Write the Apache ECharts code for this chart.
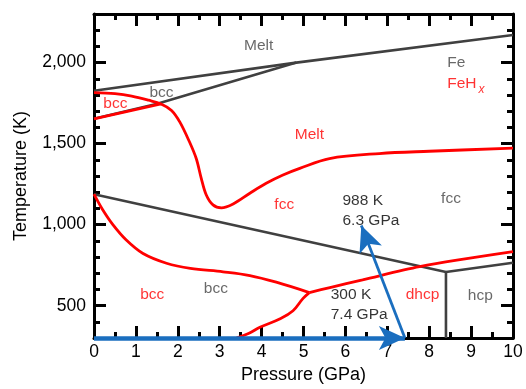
<!DOCTYPE html>
<html><head><meta charset="utf-8">
<script src="https://cdn.jsdelivr.net/npm/echarts@6/dist/echarts.min.js"></script>
<style>html,body{margin:0;padding:0;background:#fff}#c{width:526px;height:389px}</style>
</head><body><div id="c"></div>
<script>
// ---- tick labels ----
const xTickValues = [0,1,2,3,4,5,6,7,8,9,10];
const yTickValues = [500,1000,1500,2000];

// ---- Fe phase boundaries (gray) [pressure GPa, temperature K] ----
const feMelt      = [[0,1826],[4.83,2000],[10,2170]];
const feBccFcc    = [[0,1653],[1.49,1745],[4.83,2000]];
const feBccFccLow = [[0,1188],[8.4,708]];
const feFccHcp    = [[8.4,708],[10,765]];
const feBccHcp    = [[8.4,708],[8.4,300]];

// ---- FeHx phase boundaries (red) ----
const fehMelt = [[0,1815],[0.5,1808],[0.9,1793],[1.3,1768],[1.6,1745],[1.85,1705],[2.05,1633],[2.28,1510],[2.44,1408],[2.56,1286],[2.68,1183],[2.84,1122],[3.04,1104],[3.32,1128],[3.72,1194],[4.11,1255],[4.51,1306],[4.91,1347],[5.62,1408],[6.81,1439],[8.0,1453],[10,1472]];
const fehBccFcc = [[0,1653],[1.6,1745]];
const fehBccFccLow = [[0,1188],[0.2,1095],[0.45,1000],[0.77,905],[1.17,822],[1.73,762],[2.3,730],[3.08,709],[3.72,686],[4.35,645],[5.14,581]];
const fehBccDhcp = [[3.4,300],[3.7,330],[3.96,367],[4.43,418],[4.75,469],[4.99,545],[5.14,581]];
const fehDhcpFcc = [[5.14,581],[5.63,612],[6.41,659],[7.77,741],[10,833]];

// ---- heating path (blue) ----
const pathStart = [0,300];
const pathMid   = [7.42,300];
const pathEnd   = [6.38,995];

// ---- annotations ----
const annoText  = ['Melt','bcc','bcc','Fe','FeHx','Melt','fcc','988 K\n6.3 GPa','fcc','bcc','bcc','300 K\n7.4 GPa','dhcp','hcp'];
const annoP     = [3.93,1.61,0.51,8.43,8.43,5.14,4.54,5.93,8.52,1.39,2.91,5.65,7.84,9.22];
const annoT     = [2103,1812,1747,1997,1869,1556,1124,1085,1163,566,603,508,566,563];
const annoGroup = ['fe','fe','feh','fe','feh','feh','feh','note','fe','feh','fe','note','feh','fe'];
const annoAlign = ['center','center','center','left','left','center','center','left','center','center','center','left','center','center'];

const GRAY = '#404040', RED = '#ff0000', BLUE = '#1a6ebf';
const FONT = '"Liberation Sans", Arial, Helvetica, sans-serif';
const groupColor = {fe:'#444444', feh:RED, note:'#000000'};

function lineSeries(data, color, width, smooth) {
  return {type:'line', data:data, showSymbol:false, symbol:'none', smooth:smooth||false,
    lineStyle:{color:color, width:width}, silent:true, z:3, clip:true};
}

const labelData = annoText.map((t,i) => {
  const isFeH = t === 'FeHx';
  return {
    value:[annoP[i], annoT[i]],
    label:{
      show:true, position:'inside', align:annoAlign[i], verticalAlign:'middle',
      color:groupColor[annoGroup[i]], fontSize:15.5, fontFamily:FONT, lineHeight:20,
      formatter: isFeH ? '{a|FeH}{b|x}' : t,
      rich: isFeH ? {
        a:{color:RED, fontSize:15.5, fontFamily:FONT},
        b:{color:RED, fontSize:12, fontStyle:'italic', fontFamily:FONT, padding:[11,0,0,2]}
      } : undefined
    }
  };
});

const axisLineStyle = {show:true, onZero:false, lineStyle:{color:'#000', width:3}};
const majorTick = {show:true, inside:true, length:12, lineStyle:{color:'#000', width:3}};
const minorTickY = {show:true, inside:true, length:6, lineStyle:{color:'#000', width:3}};

const option = {
  animation:false,
  grid:{left:94, right:13, top:14, bottom:48, containLabel:false},
  xAxis:[
    {type:'value', position:'bottom', min:0, max:10, interval:1,
     axisLine:axisLineStyle, axisTick:majorTick,
     minorTick:{show:true, splitNumber:2, length:6, lineStyle:{color:'#000', width:3}},
     splitLine:{show:false}, minorSplitLine:{show:false},
     axisLabel:{show:true, color:'#000', fontSize:17.5, fontFamily:FONT, margin:5,
       formatter:v => xTickValues.includes(v) ? String(v) : ''},
     name:'Pressure (GPa)', nameLocation:'middle', nameGap:26,
     nameTextStyle:{color:'#000', fontSize:18, fontFamily:FONT}},
    {type:'value', position:'top', min:0, max:10, interval:1,
     axisLine:axisLineStyle, axisTick:majorTick,
     minorTick:{show:true, splitNumber:2, length:6, lineStyle:{color:'#000', width:3}},
     splitLine:{show:false}, axisLabel:{show:false}}
  ],
  yAxis:[
    {type:'value', position:'left', min:300, max:2300, minInterval:500, maxInterval:500,
     axisLine:axisLineStyle, axisTick:majorTick, splitLine:{show:false},
     axisLabel:{show:true, color:'#000', fontSize:17.5, fontFamily:FONT, margin:8,
       showMinLabel:false, showMaxLabel:false,
       formatter:v => yTickValues.includes(v) ? v.toLocaleString('en-US') : ''},
     name:'Temperature (K)', nameLocation:'middle', nameGap:64,
     nameTextStyle:{color:'#000', fontSize:18, fontFamily:FONT}},
    {type:'value', position:'left', min:300, max:2300, interval:100,
     axisLine:{show:false, onZero:false}, axisTick:minorTickY, splitLine:{show:false}, axisLabel:{show:false}},
    {type:'value', position:'right', min:300, max:2300, minInterval:500, maxInterval:500,
     axisLine:axisLineStyle, axisTick:majorTick, splitLine:{show:false}, axisLabel:{show:false}},
    {type:'value', position:'right', min:300, max:2300, interval:100,
     axisLine:{show:false, onZero:false}, axisTick:minorTickY, splitLine:{show:false}, axisLabel:{show:false}}
  ],
  series:[
    lineSeries(feMelt, GRAY, 2.6),
    lineSeries(feBccFcc, GRAY, 2.6),
    lineSeries(feBccFccLow, GRAY, 2.6),
    lineSeries(feFccHcp, GRAY, 2.6),
    lineSeries(feBccHcp, GRAY, 2.6),
    lineSeries(fehMelt, RED, 2.8, 0.35),
    lineSeries(fehBccFcc, RED, 2.8),
    lineSeries(fehBccFccLow, RED, 2.8, 0.35),
    lineSeries(fehBccDhcp, RED, 2.8, 0.4),
    lineSeries(fehDhcpFcc, RED, 2.8, 0.3),
    {type:'line', data:[], silent:true, z:5,
     markLine:{silent:true, animation:false, symbol:['none','arrow'], symbolSize:[18,26],
       label:{show:false}, emphasis:{disabled:true},
       data:[
         [{coord:pathStart, lineStyle:{color:BLUE, width:4.5, type:'solid'}}, {coord:pathMid}],
         [{coord:pathMid, lineStyle:{color:BLUE, width:2.8, type:'solid'}}, {coord:pathEnd}]
       ],
       itemStyle:{color:BLUE}, lineStyle:{color:BLUE, type:'solid'}}},
    {type:'scatter', data:labelData, symbolSize:0, silent:true, z:6}
  ]
};
const chart = echarts.init(document.getElementById('c'), null, {renderer:'canvas'});
chart.setOption(option);
</script></body></html>
